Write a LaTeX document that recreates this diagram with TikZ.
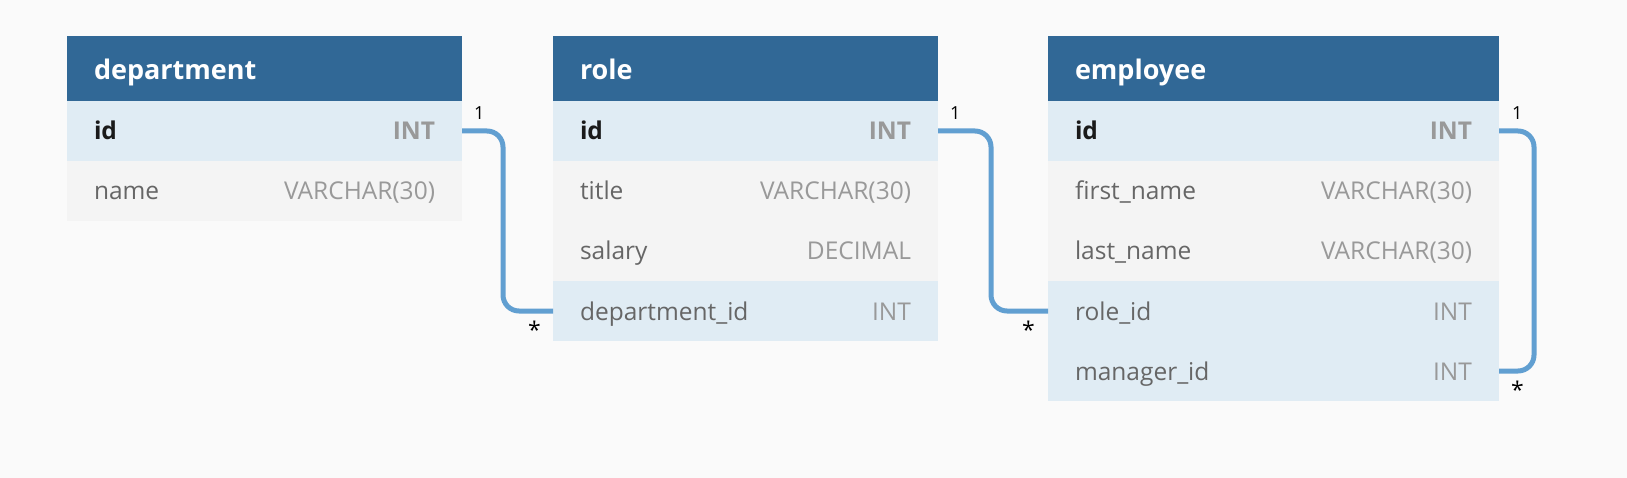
\documentclass[tikz,border=0pt]{standalone}
\usepackage{fontspec}
\setmainfont{Open Sans}
\usepackage{xcolor}
\usetikzlibrary{positioning}
\definecolor{headblue}{HTML}{316896}
\definecolor{keyblue}{HTML}{E0ECF4}
\definecolor{rowgray}{HTML}{F4F4F4}
\definecolor{bggray}{HTML}{FAFAFA}
\definecolor{linkblue}{HTML}{619FD1}
\definecolor{namegray}{HTML}{666666}
\definecolor{typegray}{HTML}{999999}
\definecolor{keyblack}{HTML}{1A1A1A}

\newcommand{\field}[2]{{\color{namegray}#1}\hfill{\color{typegray}#2}}
\newcommand{\keyfield}[2]{{\bfseries\color{keyblack}#1}\hfill{\bfseries\color{typegray}#2}}

\tikzset{
  tblhead/.style={fill=headblue, text=white, font=\fontsize{27}{32}\selectfont\bfseries,
    text width=#1, inner xsep=27pt, inner ysep=0pt, outer sep=0pt,
    minimum height=65pt, text height=24pt, text depth=2pt, anchor=north west},
  row/.style={font=\fontsize{24.5}{29}\selectfont, text width=#1, inner xsep=27pt,
    inner ysep=0pt, outer sep=0pt, minimum height=60pt, text height=21pt, text depth=3pt},
  keyrow/.style={row=#1, fill=keyblue},
  plainrow/.style={row=#1, fill=rowgray},
  link/.style={draw=linkblue, line width=5pt, rounded corners=16pt},
  mult/.style={font=\fontsize{18}{21}\selectfont, inner sep=0pt},
  star/.style={font=\fontsize{23}{26}\selectfont, inner sep=0pt}
}

\begin{document}
\begin{tikzpicture}[x=1pt, y=-1pt]
  \path[fill=bggray] (0,0) rectangle (1627,478);

  % department
  \node[tblhead=341pt] (dept-head) at (67,36) {department};
  \node[keyrow=341pt, below=0pt of dept-head] (dept-id) {\keyfield{id}{INT}};
  \node[plainrow=341pt, below=0pt of dept-id] (dept-name) {\field{name}{VARCHAR(30)}};

  % role
  \node[tblhead=331pt] (role-head) at (553,36) {role};
  \node[keyrow=331pt, below=0pt of role-head] (role-id) {\keyfield{id}{INT}};
  \node[plainrow=331pt, below=0pt of role-id] (role-title) {\field{title}{VARCHAR(30)}};
  \node[plainrow=331pt, below=0pt of role-title] (role-salary) {\field{salary}{DECIMAL}};
  \node[keyrow=331pt, below=0pt of role-salary] (role-deptid) {\field{department\_id}{INT}};

  % employee
  \node[tblhead=397pt] (emp-head) at (1048,36) {employee};
  \node[keyrow=397pt, below=0pt of emp-head] (emp-id) {\keyfield{id}{INT}};
  \node[plainrow=397pt, below=0pt of emp-id] (emp-first) {\field{first\_name}{VARCHAR(30)}};
  \node[plainrow=397pt, below=0pt of emp-first] (emp-last) {\field{last\_name}{VARCHAR(30)}};
  \node[keyrow=397pt, below=0pt of emp-last] (emp-roleid) {\field{role\_id}{INT}};
  \node[keyrow=397pt, below=0pt of emp-roleid] (emp-mgr) {\field{manager\_id}{INT}};

  % relations
  \draw[link] (dept-id.east) -- ++(41,0) |- (role-deptid.west);
  \draw[link] (role-id.east) -- ++(53,0) |- (emp-roleid.west);
  \draw[link] (emp-id.east) -- ++(35,0) |- (emp-mgr.east);

  \node[mult, above right=11pt and 12pt of dept-id.east] (m1a) {1};
  \node[mult, above right=11pt and 12pt of role-id.east] (m2a) {1};
  \node[mult, above right=11pt and 13pt of emp-id.east] (m3a) {1};
  \node[star, below left=10pt and 12pt of role-deptid.west] (m1b) {*};
  \node[star, below left=10pt and 13pt of emp-roleid.west] (m2b) {*};
  \node[star, below right=10pt and 12pt of emp-mgr.east] (m3b) {*};
\end{tikzpicture}
\end{document}
